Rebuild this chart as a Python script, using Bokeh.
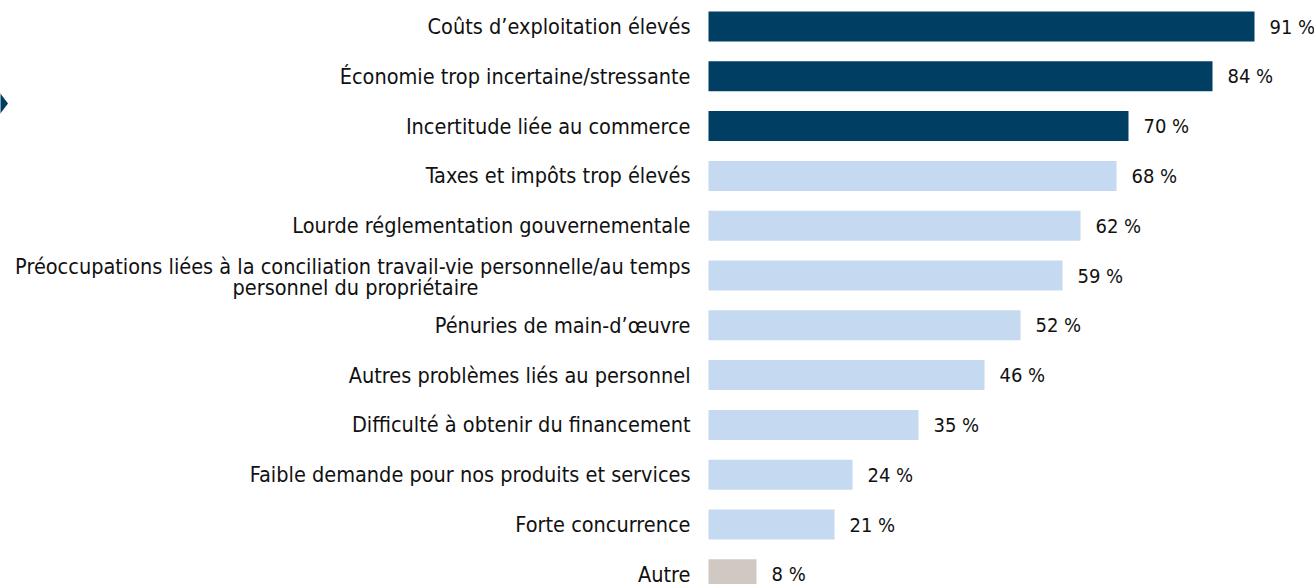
from bokeh.plotting import figure
from bokeh.models import Range1d, ColumnDataSource
from bokeh.core.properties import value
from bokeh.embed import file_html
from bokeh.resources import INLINE

categories = [
    "Coûts d’exploitation élevés",
    "Économie trop incertaine/stressante",
    "Incertitude liée au commerce",
    "Taxes et impôts trop élevés",
    "Lourde réglementation gouvernementale",
    "Préoccupations liées à la conciliation travail-vie personnelle/au temps\npersonnel du propriétaire",
    "Pénuries de main-d’œuvre",
    "Autres problèmes liés au personnel",
    "Difficulté à obtenir du financement",
    "Faible demande pour nos produits et services",
    "Forte concurrence",
    "Autre",
]
values = [91, 84, 70, 68, 62, 59, 52, 46, 35, 24, 21, 8]
groups = ["top", "top", "top", "other", "other", "other", "other", "other", "other", "other", "other", "misc"]
palette = {"top": "#003F63", "other": "#C5D9F0", "misc": "#D0C8C3"}

W, H = 1314, 584
ROW = 49.8          # px per row
TOP = 26            # px of first row centre
PX = 6.0            # px per percent
ZERO_PX = 708       # px of 0%

FONT = "DejaVu Sans Condensed"
FS = "21.5px"
VFS = "20px"
TC = "#111111"

idx = list(range(len(categories)))
colors = [palette[g] for g in groups]

p = figure(width=W, height=H, output_backend="svg", toolbar_location=None,
           x_range=Range1d(-ZERO_PX / PX, (W - ZERO_PX) / PX),
           y_range=Range1d((H - TOP) / ROW, -TOP / ROW),
           min_border=0, outline_line_color=None)
p.axis.visible = False
p.grid.visible = False
p.background_fill_color = "white"
p.border_fill_color = "white"

# decorative chevron at the left edge
def dx(px):
    return (px - ZERO_PX) / PX

def dy(py):
    return (py - TOP) / ROW

p.patch(x=[dx(-2), dx(7.5), dx(-2)], y=[dy(90.5), dy(103), dy(115.5)],
        fill_color="#003F63", line_color=None)

src = ColumnDataSource(dict(y=idx, v=values, c=colors,
                            lab=[f"{v} %" for v in values]))
p.hbar(y="y", left=0, right="v", height=30 / ROW, fill_color="c",
       line_color=None, source=src)
p.text(x="v", y="y", text="lab", x_offset=15, text_align="left",
       text_baseline="middle", text_font=value(FONT), text_font_size=VFS,
       text_color=TC, source=src)

# category labels
single = [(i, c) for i, c in enumerate(categories) if "\n" not in c]
p.text(x=[-18 / PX] * len(single), y=[i for i, _ in single],
       text=[c for _, c in single], text_align="right", text_baseline="middle",
       text_font=value(FONT), text_font_size=FS, text_color=TC)
for i, c in enumerate(categories):
    if "\n" in c:
        l1, l2 = c.split("\n")
        p.text(x=[-18 / PX], y=[i], text=[l1], y_offset=-9, text_align="right",
               text_baseline="middle", text_font=value(FONT), text_font_size=FS,
               text_color=TC)
        p.text(x=[-18 / PX - 335 / PX], y=[i], text=[l2], y_offset=12,
               text_align="center", text_baseline="middle",
               text_font=value(FONT), text_font_size=FS, text_color=TC)

open("out.html", "w").write(file_html(p, INLINE))
